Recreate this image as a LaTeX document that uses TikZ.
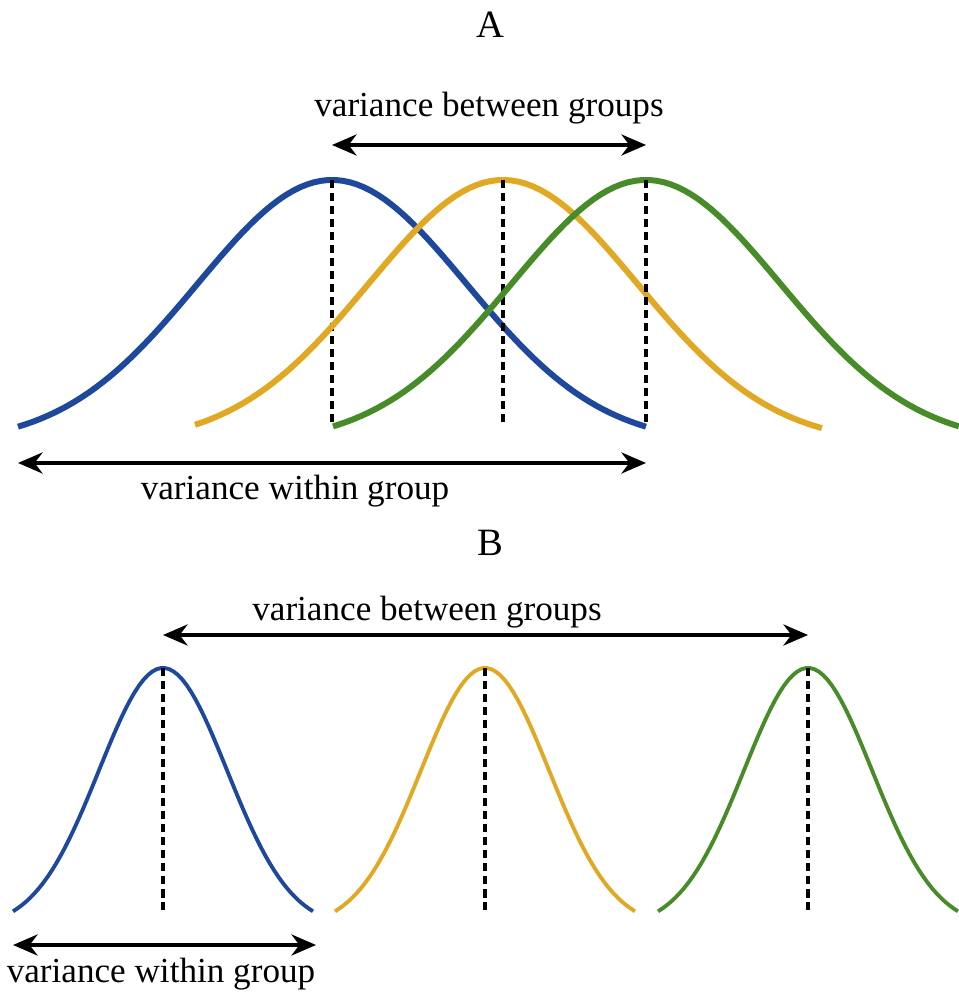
\documentclass[tikz,border=0pt]{standalone}
\usepackage{fontspec}
\setmainfont{Liberation Serif}
\usetikzlibrary{arrows.meta}
\definecolor{gblue}{RGB}{30,72,155}
\definecolor{gyellow}{RGB}{225,168,35}
\definecolor{ggreen}{RGB}{72,140,42}
\tikzset{
  mean/.style={dash pattern=on 2.4pt off 1.3pt, line width=0.9pt},
  var/.style={{Stealth[length=7pt,width=6pt]}-{Stealth[length=7pt,width=6pt]}, line width=1pt},
  lbl/.style={anchor=base, inner sep=0pt, font=\fontsize{10}{12}\selectfont},
  ttl/.style={anchor=base, inner sep=0pt, font=\fontsize{11}{13}\selectfont},
}
\begin{document}
\begin{tikzpicture}
  \useasboundingbox (0,0) rectangle (9.59,9.93);
  % A: wide, overlapping groups
  \foreach \m/\a/\b/\c in {3.32/0.18/6.46/gblue, 5.03/1.95/8.22/gyellow, 6.46/3.33/9.59/ggreen} {
    \draw[\c, line width=1.7pt, domain=\a:\b, samples=90] plot (\x, {5.49+2.64*exp(-((\x-\m)^2)/3.618)});
    \draw[mean] (\m,8.13) -- (\m,5.68);
  }
  \node[ttl] (titleA) at (4.90,9.55) {A};
  \node[lbl] (betweenA) at (4.89,8.76) {variance between groups};
  \coordinate (betweenAl) at (3.32,8.48);
  \coordinate (betweenAr) at (6.46,8.48);
  \draw[var] (betweenAl) -- (betweenAr);
  \coordinate (withinAl) at (0.18,5.30);
  \coordinate (withinAr) at (6.46,5.30);
  \draw[var] (withinAl) -- (withinAr);
  \node[lbl] (withinA) at (2.95,4.93) {variance within group};
  % B: narrow, separated groups
  \foreach \m/\c in {1.63/gblue, 4.85/gyellow, 8.08/ggreen} {
    \draw[\c, line width=1.1pt, domain=\m-1.5:\m+1.5, samples=70] plot (\x, {0.65+2.60*exp(-((\x-\m)^2)/0.8192)});
    \draw[mean] (\m,3.25) -- (\m,0.83);
  }
  \node[ttl] (titleB) at (4.90,4.37) {B};
  \node[lbl] (betweenB) at (4.27,3.72) {variance between groups};
  \coordinate (betweenBl) at (1.63,3.58);
  \coordinate (betweenBr) at (8.08,3.58);
  \draw[var] (betweenBl) -- (betweenBr);
  \coordinate (withinBl) at (0.13,0.48);
  \coordinate (withinBr) at (3.16,0.48);
  \draw[var] (withinBl) -- (withinBr);
  \node[lbl] (withinB) at (1.61,0.11) {variance within group};
\end{tikzpicture}
\end{document}
